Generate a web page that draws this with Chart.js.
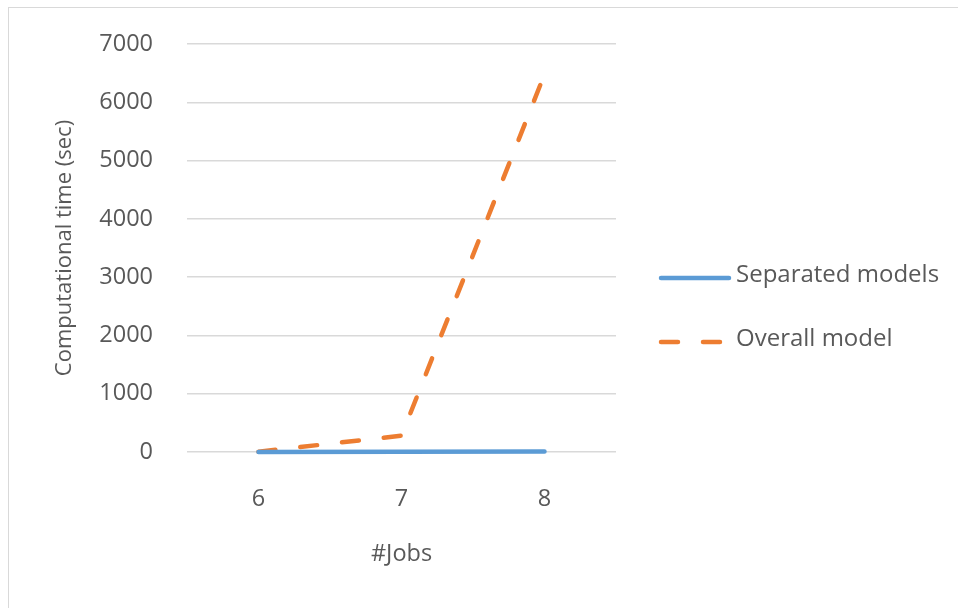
<!DOCTYPE html>
<html>
<head>
<meta charset="utf-8">
<script src="https://cdn.jsdelivr.net/npm/chart.js@4"></script>
<style>
  html, body { margin: 0; padding: 0; background: #fff; }
  #wrap { position: relative; width: 958px; height: 608px; overflow: hidden; }
  #frame { position: absolute; left: 8px; top: 7px; width: 1000px; height: 700px;
           border-left: 1.5px solid #d9d9d9; border-top: 1.5px solid #d9d9d9; }
  canvas { position: absolute; left: 0; top: 0; }
</style>
</head>
<body>
<div id="wrap">
  <div id="frame"></div>
  <canvas id="lineChart" width="958" height="608"></canvas>
</div>
<script>
const jobs = ["6", "7", "8"];
const separatedModels = [2, 4, 8];
const overallModel = [5, 280, 6480];
const yTicks = [0, 1000, 2000, 3000, 4000, 5000, 6000, 7000];

const textColor = "#595959";
const fontFamily = "'Open Sans', 'Noto Sans', sans-serif";
const fontSize = 23.5;

// legend on the right, drawn like the Excel one (line sample + text)
const sideLegend = {
    id: "sideLegend",
    afterDraw(chart) {
        const c = chart.ctx;
        const area = chart.chartArea;
        const x0 = area.right + 43;
        const midY = (area.top + area.bottom) / 2;
        chart.data.datasets.forEach((ds, i) => {
            const y = midY + 30 + i * 64;
            c.save();
            c.strokeStyle = ds.borderColor;
            c.lineWidth = ds.borderWidth;
            c.lineCap = "round";
            c.setLineDash(ds.borderDash || []);
            c.beginPath();
            c.moveTo(x0 + 2, y);
            c.lineTo(x0 + 70, y);
            c.stroke();
            c.setLineDash([]);
            c.fillStyle = textColor;
            c.font = "24px " + fontFamily;
            c.textBaseline = "middle";
            c.textAlign = "left";
            c.fillText(ds.label, x0 + 77, y - 3);
            c.restore();
        });
    },
};

const ctx = document.getElementById("lineChart");

new Chart(ctx, {
    type: "line",
    data: {
        labels: jobs,
        datasets: [
            {
                label: "Separated models",
                data: separatedModels,
                borderColor: "#5B9BD5",
                backgroundColor: "#5B9BD5",
                borderWidth: 4.5,
                borderCapStyle: "round",
                pointRadius: 0,
                tension: 0,
                clip: false,
            },
            {
                label: "Overall model",
                data: overallModel,
                borderColor: "#ED7D31",
                backgroundColor: "#ED7D31",
                borderWidth: 4.5,
                borderDash: [17, 25],
                borderCapStyle: "round",
                pointRadius: 0,
                tension: 0,
                clip: false,
            },
        ],
    },
    options: {
        responsive: false,
        animation: false,
        layout: {
            padding: { left: 52, right: 342, top: 44, bottom: 40 },
        },
        plugins: {
            tooltip: { enabled: false },
            legend: { display: false },
        },
        scales: {
            x: {
                offset: true,
                grid: { display: false, drawTicks: false },
                border: { display: false },
                ticks: {
                    color: textColor,
                    font: { family: fontFamily, size: fontSize },
                    padding: 33,
                },
                title: {
                    display: true,
                    text: "#Jobs",
                    color: textColor,
                    font: { family: fontFamily, size: fontSize },
                    padding: 0,
                },
                afterFit: (scale) => {
                    scale.height = 116;
                    scale.paddingLeft = 0;
                    scale.paddingRight = 0;
                },
            },
            y: {
                min: 0,
                max: 7000,
                afterBuildTicks: (scale) => {
                    scale.ticks = yTicks.map((v) => ({ value: v }));
                },
                grid: { color: "#d9d9d9", lineWidth: 1.5, drawTicks: false },
                border: { display: false },
                ticks: {
                    color: textColor,
                    font: { family: fontFamily, size: fontSize },
                    padding: 34,
                    callback: (v) => String(v),
                },
                title: {
                    display: true,
                    text: "Computational time (sec)",
                    color: textColor,
                    font: { family: fontFamily, size: 22 },
                    padding: 0,
                },
                afterFit: (scale) => {
                    scale.width = 135;
                    scale.paddingTop = 0;
                    scale.paddingBottom = 0;
                },
            },
        },
    },
    plugins: [sideLegend],
});
</script>
</body>
</html>
